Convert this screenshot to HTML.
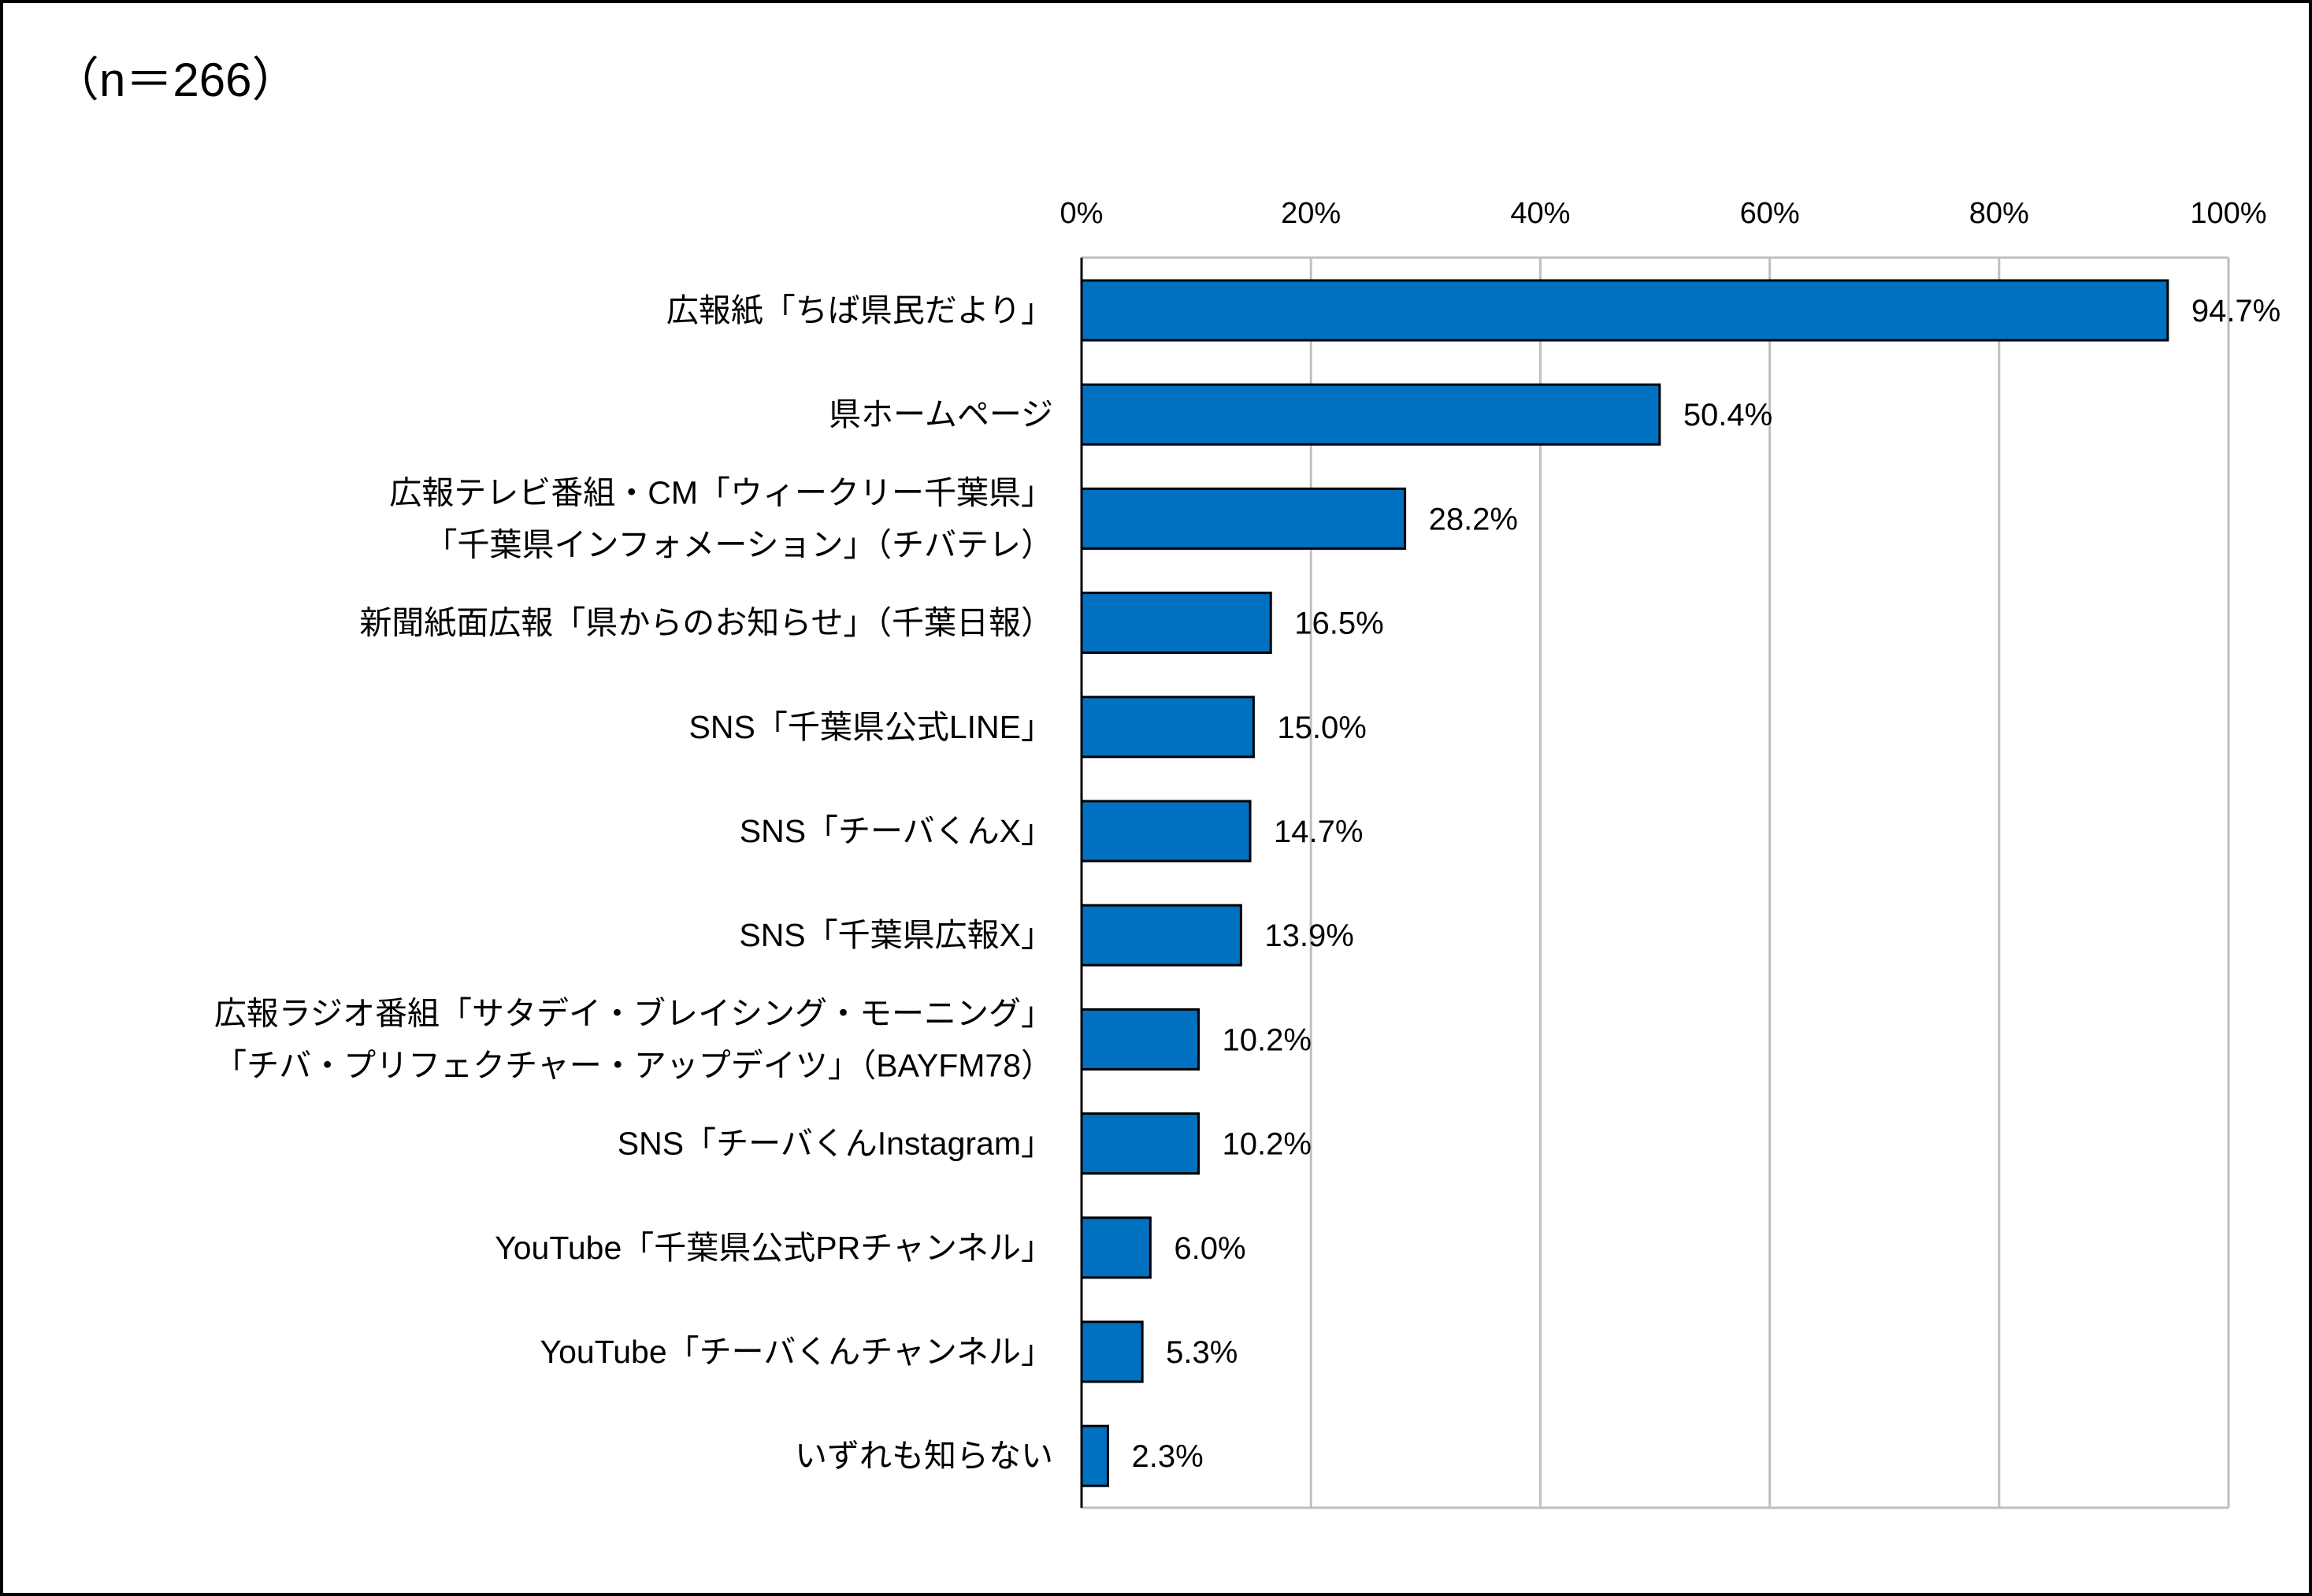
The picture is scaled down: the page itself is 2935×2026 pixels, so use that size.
<!DOCTYPE html>
<html><head><meta charset="utf-8"><style>
html,body{margin:0;padding:0;background:#fff}
svg{display:block}
text{font-family:"Liberation Sans","Noto Sans CJK JP",sans-serif;fill:#000}
</style></head><body>
<svg id="chart" width="2935" height="2026" viewBox="0 0 2935 2026" xmlns="http://www.w3.org/2000/svg">
<rect x="2" y="2" width="2931" height="2022" fill="#fff" stroke="#000" stroke-width="4"/>
<text x="66" y="122" font-size="60">（n＝266）</text>
<g id="grid"></g><g id="bars"></g><g id="labels"></g>
</svg>
<script>
const categories=[
["広報紙「ちば県民だより」"],
["県ホームページ"],
["広報テレビ番組・CM「ウィークリー千葉県」","「千葉県インフォメーション」（チバテレ）"],
["新聞紙面広報「県からのお知らせ」（千葉日報）"],
["SNS「千葉県公式LINE」"],
["SNS「チーバくんX」"],
["SNS「千葉県広報X」"],
["広報ラジオ番組「サタデイ・ブレイシング・モーニング」","「チバ・プリフェクチャー・アップデイツ」（BAYFM78）"],
["SNS「チーバくんInstagram」"],
["YouTube「千葉県公式PRチャンネル」"],
["YouTube「チーバくんチャンネル」"],
["いずれも知らない"]];
const values=[94.7,50.4,28.2,16.5,15.0,14.7,13.9,10.2,10.2,6.0,5.3,2.3];
const ticks=[0,20,40,60,80,100];
const NS="http://www.w3.org/2000/svg";
const X0=1373,X1=2829,Y0=327,Y1=1914,B0=356,PITCH=132.2,BH=76;
const xs=v=>X0+(X1-X0)*v/100;
const yb=i=>B0+PITCH*i;
function mk(t,a,p){const e=document.createElementNS(NS,t);for(const k in a)e.setAttribute(k,a[k]);p.appendChild(e);return e;}
const gridG=document.getElementById('grid'),barsG=document.getElementById('bars'),labelsG=document.getElementById('labels');
ticks.forEach(t=>{
 const l=mk('line',{x1:xs(t),x2:xs(t),y1:Y0,y2:Y1,stroke:'#bfbfbf','stroke-width':3},gridG);
 
 
 const tx=mk('text',{x:xs(t),y:283,'font-size':38,'text-anchor':'middle'},gridG);
 tx.textContent=t+'%';
 
 
});
const topLine=mk('line',{x1:X0,x2:X1,y1:Y0,y2:Y0,stroke:'#bfbfbf','stroke-width':3},gridG);


const botLine=mk('line',{x1:X0,x2:X1,y1:Y1,y2:Y1,stroke:'#bfbfbf','stroke-width':3},gridG);


values.forEach((v,i)=>{
 const r=mk('rect',{x:X0,y:yb(i),width:xs(v)-X0,height:BH,fill:'#0070c0',stroke:'#000','stroke-width':3},barsG);
 
 
 const cy=yb(i)+BH/2;
 const vt=mk('text',{x:xs(v)+30,y:cy+14,'font-size':40},labelsG);
 vt.textContent=v.toFixed(1)+'%';
 
 
 const lines=categories[i];
 lines.forEach((s,j)=>{
  const off=lines.length===1?0:(j===0?-33:33);
  const ct=mk('text',{x:1337,y:cy+off+14,'font-size':41,'text-anchor':'end'},labelsG);
  ct.textContent=s;
  
  
 });
});
const yAxis=mk('line',{x1:X0,x2:X0,y1:Y0,y2:Y1,stroke:'#000','stroke-width':3},barsG);


</script>
</body></html>
